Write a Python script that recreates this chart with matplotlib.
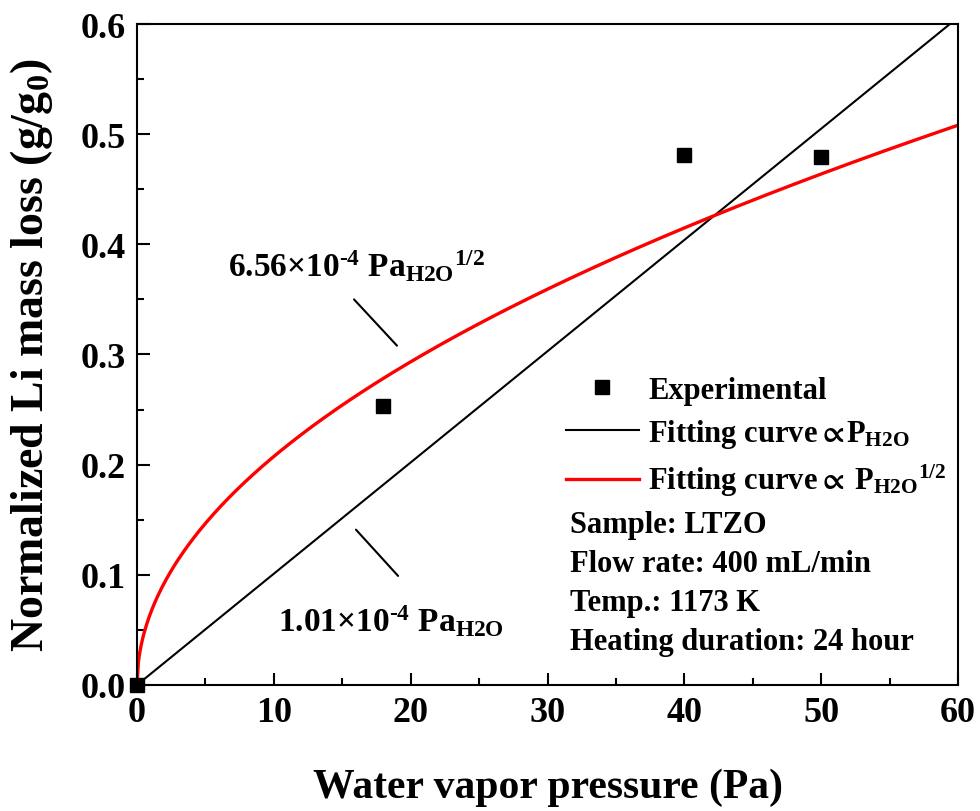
import numpy as np
import matplotlib
matplotlib.use('Agg')
import matplotlib.pyplot as plt

plt.rcParams['font.family'] = ['Liberation Serif', 'DejaVu Serif']
plt.rcParams['font.weight'] = 'bold'
plt.rcParams['axes.labelweight'] = 'bold'
plt.rcParams['mathtext.fontset'] = 'custom'
plt.rcParams['mathtext.rm'] = 'Liberation Serif:bold'
plt.rcParams['mathtext.it'] = 'Liberation Serif:bold'
plt.rcParams['mathtext.bf'] = 'Liberation Serif:bold'
plt.rcParams['mathtext.fallback'] = 'stix'

# experimental points
pressure = [0, 18, 40, 50]
mass_loss = [0.0, 0.253, 0.481, 0.479]

# fitted coefficients (plot units)
k_linear = 1.01e-2
k_sqrt = 6.56e-2

p_fit = np.linspace(0, 60, 601)
fit_linear = k_linear * p_fit
fit_sqrt = k_sqrt * np.sqrt(p_fit)

fig = plt.figure(figsize=(9.8, 8.12), dpi=100)
ax = fig.add_axes([0.1398, 0.1552, 0.8378, 0.814])

ax.plot(pressure, mass_loss, 's', color='black', markersize=10, clip_on=False,
        zorder=5, label='Experimental')
ax.plot(p_fit, fit_linear, color='black', lw=1.5,
        label=r'Fitting curve$\mathbf{\propto}\!$P$_{\mathrm{H2O}}$')
ax.plot(p_fit, fit_sqrt, color='#ff0000', lw=2.4,
        label=r'Fitting curve$\mathbf{\propto}\,$P$_{\mathrm{H2O}}$$^{\mathrm{1/2}}$')

ax.set_xlim(0, 60)
ax.set_ylim(0, 0.6)
ax.set_xticks(np.arange(0, 61, 10))
ax.set_xticks(np.arange(0, 61, 5), minor=True)
ax.set_yticks(np.arange(0, 0.61, 0.1))
ax.set_yticks(np.arange(0, 0.61, 0.05), minor=True)
ax.yaxis.set_major_formatter(matplotlib.ticker.FormatStrFormatter('%.1f'))
ax.tick_params(which='both', direction='in', width=1.5, labelsize=26, pad=8)
ax.tick_params(which='major', length=9)
ax.tick_params(which='minor', length=5)
for s in ax.spines.values():
    s.set_linewidth(1.5)

ax.set_xlabel('Water vapor pressure (Pa)', fontsize=30, labelpad=28)
ax.set_ylabel(r'Normalized Li mass loss (g/g$_{\mathrm{0}}$)', fontsize=33)
ax.yaxis.set_label_coords(-0.1, 0.5)

# formula annotations
ax.text(6.65, 0.371, r'6.56×10$^{\text{-4}}$ Pa$_{\mathrm{H2O}}$$^{\mathrm{1/2}}$', fontsize=24)
ax.annotate('', xy=(19.0, 0.308), xytext=(15.86, 0.350),
            arrowprops=dict(arrowstyle='-', color='black', lw=1.5, shrinkA=0, shrinkB=0))
ax.text(10.3, 0.049, r'1.01×10$^{\text{-4}}$ Pa$_{\mathrm{H2O}}$', fontsize=24)
ax.annotate('', xy=(19.08, 0.099), xytext=(16.0, 0.141),
            arrowprops=dict(arrowstyle='-', color='black', lw=1.5, shrinkA=0, shrinkB=0))

ax.legend(loc='upper left', bbox_to_anchor=(0.522, 0.468), frameon=False,
          fontsize=22, handlelength=2.4, handletextpad=0.3, borderaxespad=0,
          borderpad=0, labelspacing=0.4)

info = ['Sample: LTZO', 'Flow rate: 400 mL/min', 'Temp.: 1173 K',
        'Heating duration: 24 hour']
for i, line in enumerate(info):
    ax.text(0.527, 0.243 - i * 0.059, line, transform=ax.transAxes,
            fontsize=22, va='center')

fig.savefig('out.png', dpi=100)
